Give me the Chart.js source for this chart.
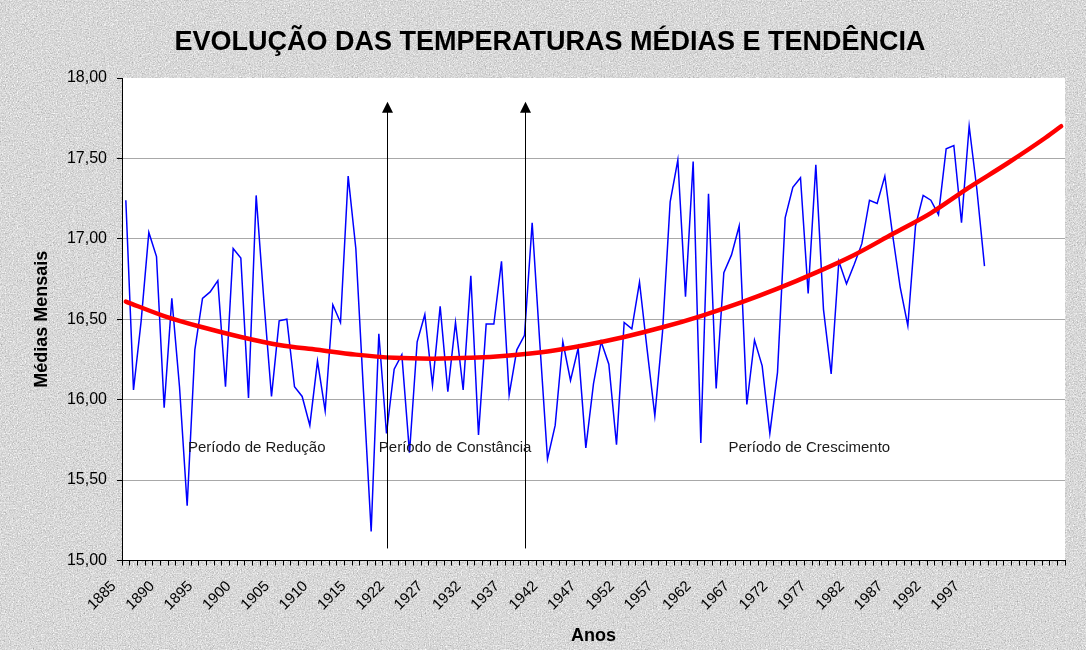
<!DOCTYPE html>
<html><head><meta charset="utf-8">
<script src="https://cdn.jsdelivr.net/npm/chart.js@4.4.1/dist/chart.umd.min.js"></script>
<style>
html,body{margin:0;padding:0;background:#d9d9d9;}
#wrap{position:relative;width:1086px;height:650px;overflow:hidden;}
#bg{position:absolute;left:0;top:0;}
#c{position:absolute;left:0;top:0;}
</style></head><body>
<div id="wrap">
<svg id="bg" width="1086" height="650">
<defs><filter id="noise" x="0" y="0" width="100%" height="100%" color-interpolation-filters="sRGB">
<feTurbulence type="fractalNoise" baseFrequency="0.75" numOctaves="3" seed="7"/>
<feColorMatrix type="matrix" values="0.33 0.33 0.33 0 0  0.33 0.33 0.33 0 0  0.33 0.33 0.33 0 0  0 0 0 0 1"/>
<feComponentTransfer><feFuncR type="linear" slope="0.7" intercept="0.5"/><feFuncG type="linear" slope="0.7" intercept="0.5"/><feFuncB type="linear" slope="0.7" intercept="0.5"/></feComponentTransfer>
</filter></defs>
<rect width="1086" height="650" fill="#dadada"/>
<rect width="1086" height="650" filter="url(#noise)"/>
</svg>
<canvas id="c" width="1086" height="650"></canvas>
</div>
<script>
const categories = [
 '1885','1886','1887','1888','1889','1890','1891','1892','1893','1894',
 '1895','1896','1897','1898','1899','1900','1901','1902','1903','1904',
 '1905','1906','1907','1908','1909','1910','1911','1912','1913','1914',
 '1915','1918','1919','1920','1921','1922','1923','1924','1925','1926',
 '1927','1928','1929','1930','1931','1932','1933','1934','1935','1936',
 '1937','1938','1939','1940','1941','1942','1943','1944','1945','1946',
 '1947','1948','1949','1950','1951','1952','1953','1954','1955','1956',
 '1957','1958','1959','1960','1961','1962','1963','1964','1965','1966',
 '1967','1968','1969','1970','1971','1972','1973','1974','1975','1976',
 '1977','1978','1979','1980','1981','1982','1983','1984','1985','1986',
 '1987','1988','1989','1990','1991','1992','1993','1994','1995','1996',
 '1997','1998','1999',
 '','','','','','','','','',''
];
const temperatures = [
 17.24,16.06,16.49,17.04,16.89,15.95,16.63,16.08,15.34,16.31,
 16.63,16.67,16.74,16.08,16.94,16.88,16.01,17.27,16.62,16.02,
 16.49,16.50,16.08,16.02,15.84,16.24,15.93,16.59,16.48,17.39,
 16.94,16.05,15.18,16.41,15.79,16.19,16.28,15.67,16.36,16.53,
 16.09,16.58,16.05,16.48,16.06,16.77,15.78,16.47,16.47,16.86,
 16.03,16.31,16.40,17.10,16.35,15.63,15.84,16.36,16.12,16.32,
 15.70,16.10,16.36,16.22,15.72,16.48,16.44,16.73,16.31,15.90,
 16.42,17.23,17.49,16.64,17.48,15.73,17.28,16.07,16.79,16.90,
 17.08,15.97,16.37,16.21,15.79,16.17,17.13,17.32,17.38,16.66,
 17.46,16.56,16.16,16.86,16.72,16.84,16.97,17.24,17.22,17.39,
 17.03,16.70,16.46,17.08,17.27,17.24,17.15,17.56,17.58,17.10,
 17.70,17.31,16.83
];
const trendIndex  = [0,5,10,15,20,25,30,35,40,45,50,55,60,65,70,75,80,85,90,95,100,105,110,115,120,122];
const trendValues = [16.61,16.52,16.45,16.39,16.34,16.31,16.28,16.26,16.255,16.26,16.275,16.30,16.34,16.39,16.45,16.52,16.60,16.69,16.79,16.90,17.03,17.16,17.32,17.47,17.63,17.70];
const yTicks = [15,15.5,16,16.5,17,17.5,18];

const trendData = categories.map(() => null);
trendIndex.forEach((k, j) => { trendData[k] = trendValues[j]; });

const FONT = "'Liberation Sans', Arial, Helvetica, sans-serif";
Chart.defaults.font.family = FONT;
Chart.defaults.color = '#000';

const plotBg = {
  id: 'plotBg',
  beforeDraw(chart) {
    const {ctx, chartArea: a} = chart;
    ctx.save(); ctx.fillStyle = '#ffffff';
    ctx.fillRect(a.left, a.top, a.right - a.left, a.bottom - a.top);
    ctx.restore();
  }
};

const periodMarks = {
  id: 'periodMarks',
  afterDraw(chart, args, opts) {
    const {ctx} = chart;
    ctx.save();
    ctx.font = 'bold 27px ' + FONT; ctx.fillStyle = '#000';
    ctx.textAlign = 'center'; ctx.textBaseline = 'middle';
    ctx.fillText(opts.title.text, opts.title.x, opts.title.y);
    ctx.restore();
  },
  afterDatasetsDraw(chart, args, opts) {
    const {ctx} = chart;
    const xs = chart.scales.x, ys = chart.scales.y;
    ctx.save();
    opts.arrows.forEach(ar => {
      const x = Math.round(xs.getPixelForValue(ar.at)) + 0.5;
      const yTop = ys.getPixelForValue(ar.to);
      const yBot = ys.getPixelForValue(ar.from);
      ctx.strokeStyle = '#000'; ctx.lineWidth = 1;
      ctx.beginPath(); ctx.moveTo(x, yBot); ctx.lineTo(x, yTop + 10); ctx.stroke();
      ctx.fillStyle = '#000';
      ctx.beginPath(); ctx.moveTo(x, yTop); ctx.lineTo(x - 5.5, yTop + 11); ctx.lineTo(x + 5.5, yTop + 11); ctx.closePath(); ctx.fill();
    });
    ctx.font = '15px ' + FONT; ctx.fillStyle = '#1a1a1a';
    ctx.textAlign = 'left'; ctx.textBaseline = 'middle';
    opts.texts.forEach(t => {
      ctx.fillText(t.text, xs.getPixelForValue(t.at), ys.getPixelForValue(t.value));
    });
    ctx.restore();
  }
};

new Chart(document.getElementById('c'), {
  type: 'line',
  data: {
    labels: categories,
    datasets: [
      { label: 'Tendência', data: trendData, borderColor: '#ff0000', borderWidth: 4.5,
        pointRadius: 0, spanGaps: true, cubicInterpolationMode: 'monotone', order: 0, borderCapStyle: 'round' },
      { label: 'Médias', data: temperatures, borderColor: '#0000ff', borderWidth: 1.5,
        pointRadius: 0, tension: 0, order: 1 }
    ]
  },
  options: {
    responsive: false, animation: false,
    layout: { padding: { left: 0, right: 21, top: 78, bottom: 0 } },
    plugins: {
      legend: { display: false }, tooltip: { enabled: false }, title: { display: false },
      periodMarks: {
        title: { text: 'EVOLUÇÃO DAS TEMPERATURAS MÉDIAS E TENDÊNCIA', x: 550, y: 43 },
        arrows: [ { at: 34, from: 15.075, to: 17.853 }, { at: 52, from: 15.075, to: 17.853 } ],
        texts: [
          { text: 'Período de Redução', at: 8.1, value: 15.70 },
          { text: 'Período de Constância', at: 33.0, value: 15.70 },
          { text: 'Período de Crescimento', at: 78.6, value: 15.70 }
        ]
      }
    },
    scales: {
      x: {
        type: 'category', offset: true,
        grid: { display: true, drawOnChartArea: false, drawTicks: true, tickLength: 5, color: '#000', tickColor: '#000', offset: true },
        border: { display: true, color: '#000', width: 1 },
        ticks: { autoSkip: false, maxRotation: 45, minRotation: 45, padding: 12, labelOffset: -12, font: { size: 15 }, color: '#000',
          callback(v, i) { return (i % 5 === 0) ? this.getLabelForValue(v) : ''; } },
        title: { display: true, text: 'Anos', font: { size: 18, weight: 'bold' }, color: '#000', padding: { top: 0, bottom: 3 } },
        afterFit(s) { s.height = 89.5; }
      },
      y: {
        min: 15, max: 18,
        afterBuildTicks(s) { s.ticks = yTicks.map(v => ({ value: v })); },
        ticks: { padding: 10, font: { size: 16 }, color: '#000',
          callback: v => Number(v).toFixed(2).replace('.', ',') },
        grid: { color: c => (c.tick && (c.tick.value === 18 || c.tick.value === 15)) ? 'rgba(0,0,0,0)' : '#a8a8a8',
          tickColor: '#000', tickLength: 5, lineWidth: 1 },
        border: { display: true, color: '#000', width: 1 },
        title: { display: true, text: 'Médias Mensais', font: { size: 18, weight: 'bold' }, color: '#000', padding: { top: 31, bottom: 0 } },
        afterFit(s) { s.width = 122; }
      }
    }
  },
  plugins: [plotBg, periodMarks]
});
</script>
</body></html>
